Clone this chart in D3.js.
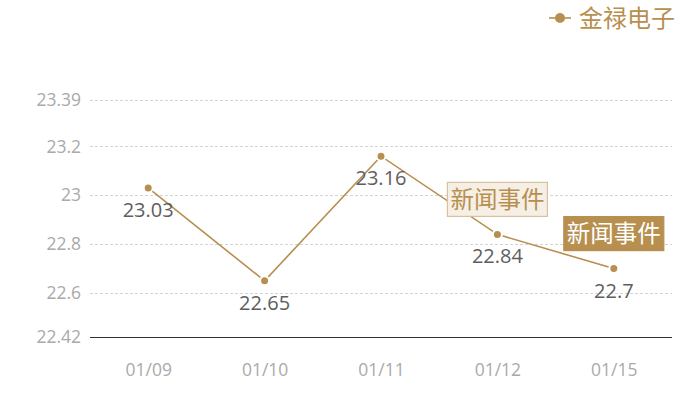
<!DOCTYPE html>
<html>
<head>
<meta charset="utf-8">
<script src="https://cdn.jsdelivr.net/npm/d3@7"></script>
<style>
  body { margin: 0; background: #fff; }
  svg { display: block; font-family: "Open Sans", "Noto Sans CJK SC", sans-serif; }
</style>
</head>
<body>
<div id="chart"></div>
<script>
const dates = ['01/09', '01/10', '01/11', '01/12', '01/15'];
const prices = [23.03, 22.65, 23.16, 22.84, 22.7];
const yTicks = [22.42, 22.6, 22.8, 23, 23.2, 23.39];
const seriesName = '金禄电子';
// news markers
const events = [
  { date: '01/12', text: '新闻事件', filled: false },
  { date: '01/15', text: '新闻事件', filled: true }
];

const width = 700;
const height = 400;
const gold = '#b78f4f';
const font = '"Open Sans", "Noto Sans CJK SC", sans-serif';
const margin = { left: 90, right: 28, top: 100, bottom: 63 };

const svg = d3.select('#chart')
  .append('svg')
  .attr('width', width)
  .attr('height', height);

const x = d3.scalePoint()
  .domain(dates)
  .range([margin.left, width - margin.right])
  .padding(0.5);

const y = d3.scaleLinear()
  .domain([22.42, 23.39])
  .range([height - margin.bottom, margin.top]);

// grid lines
svg.append('g')
  .selectAll('line')
  .data(yTicks.slice(1))
  .enter()
  .append('line')
  .attr('x1', margin.left)
  .attr('x2', width - margin.right)
  .attr('y1', d => Math.round(y(d)) + 0.5)
  .attr('y2', d => Math.round(y(d)) + 0.5)
  .attr('stroke', '#d4d4d4')
  .attr('stroke-dasharray', '3,2');

// y labels
svg.append('g')
  .selectAll('text')
  .data(yTicks)
  .enter()
  .append('text')
  .text(d => d)
  .attr('x', margin.left - 9)
  .attr('y', d => y(d))
  .attr('dy', '.35em')
  .attr('text-anchor', 'end')
  .attr('fill', '#aaa')
  .style('font-size', '17.5px');

// x axis
const xAxis = svg.append('g')
  .attr('transform', `translate(0,${Math.round(height - margin.bottom) + 0.5})`)
  .call(d3.axisBottom(x).tickSize(0).tickPadding(26));
xAxis.select('.domain')
  .attr('d', `M${margin.left},0H${width - margin.right}`)
  .attr('stroke', '#333');
xAxis.selectAll('text')
  .attr('fill', '#aaa')
  .style('font-size', '17.5px')
  .style('font-family', font);

// line
const line = d3.line()
  .x((d, i) => x(dates[i]))
  .y(d => y(d));

svg.append('path')
  .datum(prices)
  .attr('d', line)
  .attr('fill', 'none')
  .attr('stroke', gold)
  .attr('stroke-width', 1.6);

svg.append('g')
  .selectAll('circle')
  .data(prices)
  .enter()
  .append('circle')
  .attr('cx', (d, i) => x(dates[i]))
  .attr('cy', d => y(d))
  .attr('r', 4.5)
  .attr('fill', gold)
  .attr('stroke', '#fff')
  .attr('stroke-width', 2);

// value labels
svg.append('g')
  .selectAll('text')
  .data(prices)
  .enter()
  .append('text')
  .text(d => d)
  .attr('x', (d, i) => x(dates[i]))
  .attr('y', d => y(d) + 29)
  .attr('text-anchor', 'middle')
  .attr('fill', '#5e5e5e')
  .style('font-size', '20px');

// news event boxes
const ev = svg.append('g')
  .selectAll('g')
  .data(events)
  .enter()
  .append('g')
  .attr('transform', d => `translate(${x(d.date)},${y(prices[dates.indexOf(d.date)]) - 35})`);

ev.append('rect')
  .attr('x', -50)
  .attr('y', -17)
  .attr('width', 100)
  .attr('height', 34)
  .attr('fill', d => d.filled ? gold : '#f6efe6')
  .attr('stroke', d => d.filled ? gold : '#d8c19e')
  .attr('stroke-width', 1.2);

ev.append('text')
  .text(d => d.text)
  .attr('text-anchor', 'middle')
  .attr('dy', '.36em')
  .attr('fill', d => d.filled ? '#fff' : gold)
  .style('font-size', '23.5px');

// legend
const legend = svg.append('g').attr('transform', 'translate(549,18)');
legend.append('line')
  .attr('x1', 0).attr('x2', 22)
  .attr('stroke', gold)
  .attr('stroke-width', 1.6);
legend.append('circle')
  .attr('cx', 11)
  .attr('r', 5)
  .attr('fill', gold);
legend.append('text')
  .text(seriesName)
  .attr('x', 30)
  .attr('dy', '.36em')
  .attr('fill', gold)
  .style('font-size', '24px');
</script>
</body>
</html>
